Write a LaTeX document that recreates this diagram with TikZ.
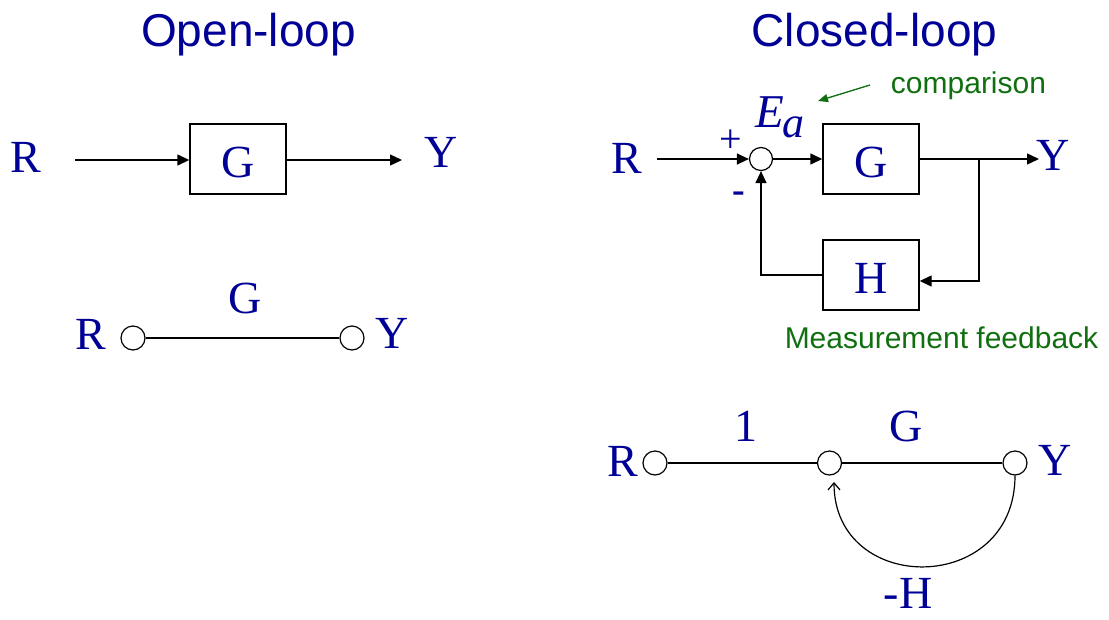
\documentclass[tikz,border=0pt]{standalone}
\usepackage{fontspec}
\setmainfont{Liberation Serif}
\newfontfamily\titlefont{Liberation Sans}
\usetikzlibrary{arrows.meta}
\definecolor{varblue}{RGB}{0,0,150}
\definecolor{notegreen}{RGB}{16,112,16}
\tikzset{
  wire/.style={line width=1.4pt, black},
  sig/.style={wire, -{Triangle[length=12pt,width=11pt]}},
  block/.style={draw, line width=1.4pt, minimum width=96pt, minimum height=70pt, inner sep=0pt},
  var/.style={text=varblue, font=\fontsize{46}{50}\selectfont, inner sep=0pt, anchor=base},
  title/.style={text=varblue, font=\titlefont\fontsize{46}{50}\selectfont, inner sep=0pt, anchor=base},
  note/.style={text=notegreen, font=\titlefont\fontsize{30}{32}\selectfont, inner sep=0pt, anchor=base},
  sumpt/.style={draw, circle, line width=1.2pt, minimum size=23pt, inner sep=0pt},
  flowpt/.style={draw, circle, line width=1.2pt, minimum size=24pt, inner sep=0pt},
  branch/.style={wire, line width=1.3pt},
}
\begin{document}
\begin{tikzpicture}[x=1pt, y=-1pt]
\useasboundingbox (0,0) rectangle (1109,619);

% ---------- titles ----------
\node[title] (tOpen) at (248.5,46) {Open-loop};
\node[title] (tClosed) at (874.5,46) {Closed-loop};

% ---------- open-loop block diagram ----------
\node[var] (oR) at (26,172) {R};
\node[block] (oG) at (238,159) {};
\node[var] (oGt) at (238,177) {G};
\node[var] (oY) at (441,167) {Y};
\coordinate (oin) at (75,160);
\coordinate (oout) at (402,160);
\draw[sig] (oin) -- (oG.west |- oin);
\draw[sig] (oG.east |- oout) -- (oout);

% ---------- open-loop signal flow graph ----------
\node[flowpt] (sR) at (133,338) {};
\node[flowpt] (sY) at (352,338) {};
\node[var] (sRt) at (91,349) {R};
\node[var] (sYt) at (392,348) {Y};
\node[var] (sGt) at (245,313) {G};
\draw[branch] (sR) -- (sY);

% ---------- closed-loop block diagram ----------
\node[var] (cR) at (627,173) {R};
\node[sumpt] (sum) at (761,159) {};
\node[block] (cG) at (871,159) {};
\node[var] (cGt) at (871,177) {G};
\node[block] (cH) at (871,275) {};
\node[var] (cHt) at (871,293) {H};
\node[var] (cY) at (1053,170) {Y};
\node[text=varblue, font=\fontsize{40}{42}\selectfont, inner sep=0pt] (plus) at (731,141) {+};
\node[text=varblue, font=\bfseries\fontsize{38}{40}\selectfont, inner sep=0pt] (minus) at (739,197) {-};
\node[text=varblue, inner sep=0pt, anchor=base west] (Ea) at (755,127)
  {\fontsize{47}{50}\selectfont\itshape E\kern-1pt\raisebox{-10pt}{\fontsize{44}{46}\selectfont a}};
\coordinate (cin) at (657,159);
\coordinate (cout) at (1039,159);
\coordinate (tap) at (979,159);
\coordinate (tapdown) at (979,281);
\coordinate (fbcorner) at (761,275);
\draw[sig] (cin) -- (sum.west);
\draw[sig] (sum.east) -- (cG.west);
\draw[sig] (cG.east) -- (cout);
\draw[sig] (tap) -- (tapdown) -- (cH.east |- tapdown);
\draw[sig] (cH.west) -- (fbcorner) -- (sum.south);

% annotations
\node[note] (cmp) at (968.5,93) {comparison};
\node[note] (meas) at (941.5,348) {Measurement feedback};
\coordinate (cmpfrom) at (870,85);
\coordinate (cmpto) at (818,101);
\draw[notegreen, line width=1.3pt, -{Triangle[length=10pt,width=8pt]}] (cmpfrom) -- (cmpto);

% ---------- closed-loop signal flow graph ----------
\node[flowpt] (fR) at (655,463) {};
\node[flowpt] (fE) at (829.5,463) {};
\node[flowpt] (fY) at (1015,463) {};
\node[var] (fRt) at (622.5,476) {R};
\node[var] (fYt) at (1055,475) {Y};
\node[var] (f1) at (746,441) {1};
\node[var] (fG) at (906,441) {G};
\node[var] (fH) at (908,608) {-H};
\draw[branch] (fR) -- (fE);
\draw[branch] (fE) -- (fY);
\coordinate (fbend) at (834,482);
\draw[line width=1.2pt, -{Straight Barb[length=7pt,width=12pt]}]
  (fY.south) .. controls (1015,596) and (834,596) .. (fbend);
\end{tikzpicture}
\end{document}
